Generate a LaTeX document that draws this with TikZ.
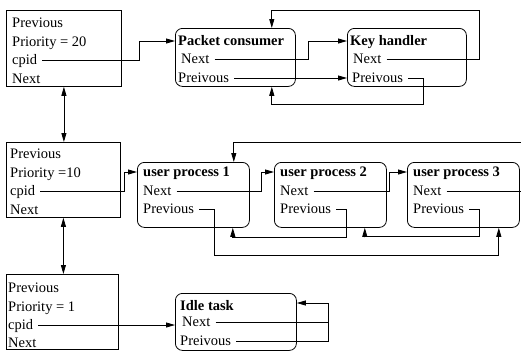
\documentclass[tikz,border=0pt]{standalone}
\usepackage{fontspec}
\setmainfont{Liberation Serif}
\usetikzlibrary{arrows.meta}
\usetikzlibrary{calc}
\tikzset{
    pcb box/.style={
        draw,
        rectangle,
        anchor=north west,
        inner sep=0,
        line width=0.8pt,
    },
    task box/.style={
        pcb box,
        rounded corners=7pt,
    },
    entry/.style={
        anchor=base west,
        inner xsep=5pt,
        inner ysep=0pt,
        text height=8pt,
        text depth=0pt,
        font=\fontsize{14.5}{18}\selectfont,
    },
    title entry/.style={
        entry,
        font=\fontsize{14.5}{18}\selectfont\bfseries,
    },
    list link/.style={
        line width=0.8pt,
        -{Triangle[length=9pt,width=5pt]},
    },
    pcb link/.style={
        line width=0.8pt,
        {Triangle[length=9pt,width=5pt]}-{Triangle[length=9pt,width=5pt]},
    },
}

\begin{document}
\begin{tikzpicture}[x=1pt, y=-1pt]

    \path[use as bounding box, clip] (0,0) rectangle (521,351);

    % priority boxes
    \node[pcb box, minimum width=115pt, minimum height=76pt] (p20) at (6,10) {};
    \node[entry] (p20prev) at (7,27) {Previous};
    \node[entry] (p20prio) at (7,46) {Priority = 20};
    \node[entry] (p20cpid) at (7,64) {cpid};
    \node[entry] (p20next) at (7,83) {Next};

    \node[pcb box, minimum width=114pt, minimum height=75pt] (p10) at (6,142) {};
    \node[entry] (p10prev) at (5,158) {Previous};
    \node[entry] (p10prio) at (5,177) {Priority =10};
    \node[entry] (p10cpid) at (5,195) {cpid};
    \node[entry] (p10next) at (5,214) {Next};

    \node[pcb box, minimum width=112pt, minimum height=75pt] (p1) at (6,274) {};
    \node[entry] (p1prev) at (3,292) {Previous};
    \node[entry] (p1prio) at (3,311) {Priority = 1};
    \node[entry] (p1cpid) at (3,329) {cpid};
    \node[entry] (p1next) at (3,347) {Next};

    \foreach \a/\b in {p20/p10, p10/p1}
        \draw[pcb link] (\a.south) -- (\a.south |- \b.north);

    % priority 20
    \node[task box, minimum width=120pt, minimum height=58pt] (pc) at (175,28) {};
    \node[title entry] (pctitle) at (173,45) {Packet consumer};
    \node[entry] (pcnext) at (176,63) {Next};
    \node[entry] (pcprev) at (173,82) {Preivous};

    \node[task box, minimum width=119pt, minimum height=58pt] (kh) at (347,28) {};
    \node[title entry] (khtitle) at (345,45) {Key handler};
    \node[entry] (khnext) at (348,63) {Next};
    \node[entry] (khprev) at (347,82) {Preivous};

    \draw[list link] (p20cpid.east) -| ([xshift=-36pt]pc.west |- pctitle.east) -- (pc.west |- pctitle.east);
    \draw[list link] (pcnext.east) -| ([xshift=-39pt]kh.west |- khtitle.east) -- (kh.west |- khtitle.east);
    \draw[list link] (pcprev.east) -- (kh.west |- pcprev.east);
    \draw[list link] (khnext.east) -| ([xshift=13pt,yshift=18pt]kh.north east) -| ([xshift=-24pt]pc.north east);
    \draw[list link] (khprev.east) -| ([xshift=-43pt,yshift=-18pt]kh.south east) -| ([xshift=-24pt]pc.south east);

    % priority 10
    \foreach \n/\x in {1/137, 2/274, 3/407}
    {
        \node[task box, minimum width=112pt, minimum height=65pt] (up\n) at (\x,162) {};
        \node[title entry] (up\n title) at (\x+1,176) {user process \n};
        \node[entry] (up\n next) at (\x+1,195) {Next};
        \node[entry] (up\n prev) at (\x+1,213) {Previous};
    }

    \draw[list link] (p10cpid.east) -| ([xshift=-13pt]up1.west |- up1title.east) -- (up1.west |- up1title.east);
    \draw[list link] (up1next.east) -| ([xshift=-13pt]up2.west |- up2title.east) -- (up2.west |- up2title.east);
    \draw[list link] (up2next.east) -| ([xshift=3pt]up2.east |- up3title.east) -- (up3.west |- up3title.east);
    \draw[list link] (up3next.east) -| ([xshift=8pt,yshift=20pt]up3.north east) -| ([xshift=-16pt]up1.north east);
    \draw[list link] (up1prev.east) -| ([xshift=-35pt,yshift=-28pt]up1.south east) -| ([xshift=-21pt]up3.south east);
    \draw[list link] (up2prev.east) -| ([xshift=-40pt,yshift=-10pt]up2.south east) -| ([xshift=-17pt]up1.south east);
    \draw[list link] (up3prev.east) -| ([xshift=-40pt,yshift=-9pt]up3.south east) -| ([xshift=-22pt]up2.south east);

    % priority 1
    \node[task box, minimum width=121pt, minimum height=57pt] (idle) at (175,293) {};
    \node[title entry] (idletitle) at (175,310) {Idle task};
    \node[entry] (idlenext) at (177,326) {Next};
    \node[entry] (idleprev) at (175,345) {Preivous};

    \draw[list link] (p1cpid.east) -- (idle.west |- p1cpid.east);
    \draw[list link] (idlenext.east) -| ([xshift=32pt,yshift=-10pt]idle.north east) -- ([yshift=-10pt]idle.north east);
    \draw[line width=0.8pt] (idleprev.east) -| ([xshift=32pt,yshift=-10pt]idle.north east);

\end{tikzpicture}
\end{document}
